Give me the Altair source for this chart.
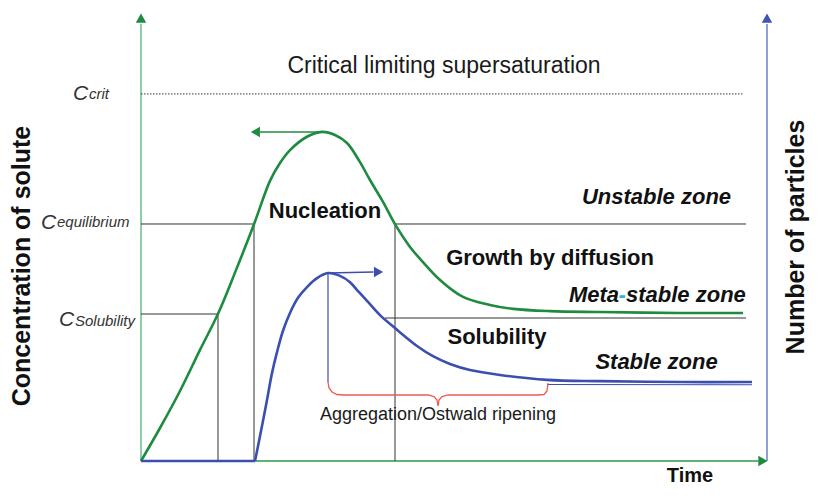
import altair as alt
import pandas as pd

# ---------------- data (time 0..100, concentration / particle number 0..100) ----------------
green_t = [0, 3.04, 6.24, 9.44, 12.32, 15.2, 18.08, 20.64, 22.24, 23.84, 26.56, 28.96,
           31.04, 32.96, 35.04, 36.64, 38.72, 40.64, 43.04, 45.12, 47.84, 51.52, 55.84,
           59.52, 65.44, 73.44, 86.24, 96.32]
green_c = [0, 7.4, 15.7, 24.9, 33.0, 42.8, 53.1, 62.8, 66.8, 69.7, 72.7, 73.8,
           73.1, 71.3, 67.0, 63.0, 58.1, 53.1, 48.0, 44.6, 40.6, 36.8, 35.0,
           34.1, 33.6, 33.4, 33.2, 33.2]

blue_t = [0, 18.24, 19.2, 20.16, 20.96, 21.76, 22.72, 23.84, 25.12, 26.56, 28.16, 29.92,
          31.84, 33.44, 34.72, 36.16, 38.24, 40.64, 44.16, 46.72, 49.44, 52.64, 57.44,
          64.96, 73.44, 86.24, 97.76]
blue_n = [0, 0, 6.7, 13.7, 19.7, 24.4, 29.2, 33.2, 36.6, 39.0, 41.0, 42.15,
          41.5, 40.1, 38.1, 35.9, 32.7, 29.8, 25.8, 23.5, 21.75, 20.4, 19.3,
          18.2, 17.9, 17.7, 17.7]

bracket_t = [29.92, 30.08, 30.56, 31.36, 32.48, 45.92, 46.88, 47.36, 47.52, 47.68, 48.16,
             49.12, 63.52, 64.48, 64.96, 65.12]
bracket_c = [17.71, 16.37, 15.47, 14.91, 14.80, 14.80, 14.46, 13.68, 12.33, 13.68, 14.46,
             14.80, 14.80, 14.91, 15.70, 17.49]

C_CRIT = 82.3
C_EQ = 53.14
C_SOL = 32.96
C_SOL_RIGHT = 32.06
T_SOL = 12.32
T_EQ_UP = 18.08
T_EQ_DOWN = 40.64
T_SOL_RIGHT = 39.04
T_END = 96.8
T_PEAK_G = 28.96
C_PEAK_G = 73.77
T_PEAK_B = 29.92
C_PEAK_B = 42.15
C_BLUE_END = 17.71

xs = alt.Scale(domain=[-21.28, 107.04], nice=False, zero=False)
ys = alt.Scale(domain=[-5.605, 101.57], nice=False, zero=False)
FONT = "Liberation Sans"


def seg_layer(t1, c1, t2, c2, **props):
    df = pd.DataFrame({"t1": t1, "c1": c1, "t2": t2, "c2": c2})
    return alt.Chart(df).mark_rule(**props).encode(
        x=alt.X("t1:Q", scale=xs, axis=None),
        x2="t2:Q",
        y=alt.Y("c1:Q", scale=ys, axis=None),
        y2="c2:Q",
    )


def line_layer(t, c, **props):
    df = pd.DataFrame({"t": t, "c": c, "i": list(range(len(t)))})
    return alt.Chart(df).mark_line(**props).encode(
        x=alt.X("t:Q", scale=xs, axis=None),
        y=alt.Y("c:Q", scale=ys, axis=None),
        order="i:Q",
    )


def point_layer(t, c, shape, color, size=110):
    df = pd.DataFrame({"t": t, "c": c})
    return alt.Chart(df).mark_point(shape=shape, filled=True, opacity=1, size=size,
                                    color=color, strokeWidth=0).encode(
        x=alt.X("t:Q", scale=xs, axis=None),
        y=alt.Y("c:Q", scale=ys, axis=None),
    )


def text_layer(labels, t, c, **props):
    df = pd.DataFrame({"label": labels, "t": t, "c": c})
    base = dict(font=FONT, baseline="alphabetic", color="#111111")
    base.update(props)
    return alt.Chart(df).mark_text(**base).encode(
        x=alt.X("t:Q", scale=xs, axis=None),
        y=alt.Y("c:Q", scale=ys, axis=None),
        text="label:N",
    )


GREEN = "#1e8b3f"
BLUE = "#3a4fb0"
GRAY = "#333333"

layers = [
    # axes
    seg_layer([0], [0], [0], [98.0], color="#6dbb8e", strokeWidth=1.5),
    seg_layer([0], [0], [98.8], [0], color="#2a9a4a", strokeWidth=1.5),
    seg_layer([100.16], [0], [100.16], [98.0], color="#8fa0d8", strokeWidth=2),
    point_layer([0], [99.3], "triangle-up", GREEN),
    point_layer([100.16], [99.3], "triangle-up", "#3f56b5"),
    point_layer([99.5], [0], "triangle-right", GREEN),
    # reference levels
    seg_layer([0], [C_CRIT], [96.48], [C_CRIT], color=GRAY, strokeWidth=1, strokeDash=[1.5, 1.5]),
    seg_layer([0, T_EQ_UP, T_EQ_DOWN, T_EQ_DOWN, 0, T_SOL, T_SOL_RIGHT],
              [C_EQ, 0, C_EQ, 0, C_SOL, 0, C_SOL_RIGHT],
              [T_EQ_UP, T_EQ_UP, T_END, T_EQ_DOWN, T_SOL, T_SOL, T_END],
              [C_EQ, C_EQ, C_EQ, C_EQ, C_SOL, C_SOL, C_SOL_RIGHT],
              color=GRAY, strokeWidth=1),
    # blue helper lines
    seg_layer([T_PEAK_B, 64.96], [C_PEAK_B, 17.15], [T_PEAK_B, 97.76], [C_BLUE_END, 17.1],
              color=BLUE, strokeWidth=1.2),
    # bracket
    line_layer(bracket_t, bracket_c, color="#ee5a50", strokeWidth=1.3),
    # curves
    line_layer(green_t, green_c, color=GREEN, strokeWidth=2.6, interpolate="catmull-rom"),
    line_layer(blue_t[:2], blue_n[:2], color=BLUE, strokeWidth=2.6),
    line_layer(blue_t[1:], blue_n[1:], color=BLUE, strokeWidth=2.6, interpolate="catmull-rom"),
    # arrows from peaks
    seg_layer([19.0], [C_PEAK_G], [T_PEAK_G], [C_PEAK_G], color=GREEN, strokeWidth=1.6),
    point_layer([18.3], [C_PEAK_G], "triangle-left", GREEN),
    seg_layer([T_PEAK_B], [C_PEAK_B], [37.2], [42.38], color=BLUE, strokeWidth=1.6),
    point_layer([38.0], [42.38], "triangle-right", BLUE),
    # texts
    text_layer(["Critical limiting supersaturation"], [48.48], [87.0],
               fontSize=23, align="center", color="#1a1a1a"),
    text_layer(["C", "C", "C"], [-10.88, -16.0, -13.12], [80.94, 52.02, 30.27],
               fontSize=21, fontStyle="italic", align="left", color="#333333"),
    text_layer(["crit", "equilibrium", "Solubility"], [-8.32, -13.44, -10.56],
               [81.17, 52.47, 30.27],
               fontSize=15, fontStyle="italic", align="left", color="#333333"),
    text_layer(["Nucleation", "Growth by diffusion", "Solubility"],
               [29.44, 65.44, 56.96], [54.48, 43.95, 26.23],
               fontSize=22, fontWeight="bold", align="center"),
    text_layer(["Unstable zone", "Stable zone"], [82.48, 82.48], [57.62, 20.63],
               fontSize=22, fontWeight="bold", fontStyle="italic", align="center"),
    text_layer(["Meta"], [76.48], [35.65],
               fontSize=22, fontWeight="bold", fontStyle="italic", align="right"),
    text_layer(["-"], [77.0], [35.65],
               fontSize=22, fontWeight="bold", fontStyle="italic", align="center",
               color="#2fb0e8"),
    text_layer(["stable zone"], [77.6], [35.65],
               fontSize=22, fontWeight="bold", fontStyle="italic", align="left"),
    text_layer(["Aggregation/Ostwald ripening"], [47.52], [9.19],
               fontSize=18, align="center", color="#1a1a1a"),
    text_layer(["Time"], [87.84], [-4.6], fontSize=20, fontWeight="bold", align="center"),
    text_layer(["Concentration of solute"], [-17.76], [43.72],
               fontSize=25, fontWeight="bold", align="center", angle=270),
    text_layer(["Number of particles"], [106.1], [50.22],
               fontSize=25, fontWeight="bold", align="center", angle=270),
]

chart = alt.layer(*layers).properties(
    width=802, height=478,
    autosize=alt.AutoSizeParams(type="none"),
    padding=0,
).configure_view(stroke=None)

chart.save("out.html", embed_options={"renderer": "svg", "actions": False})
